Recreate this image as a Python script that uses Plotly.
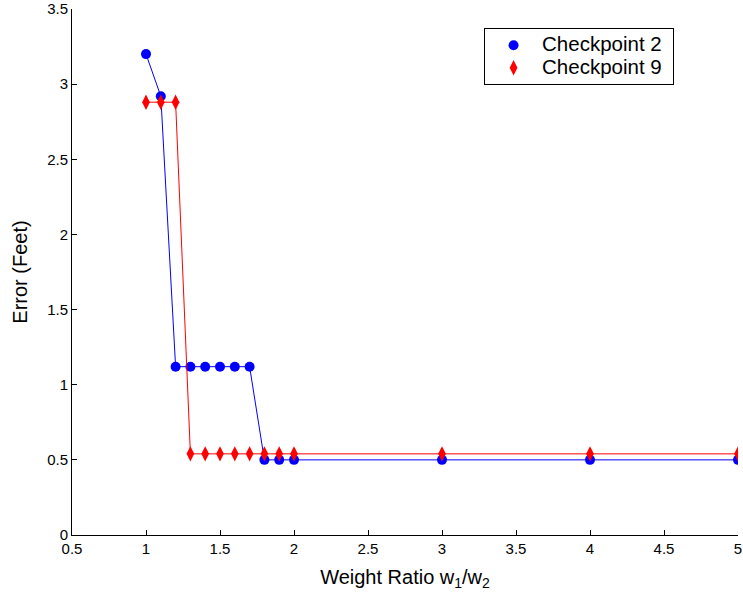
import plotly.graph_objects as go

# Weight ratio w1/w2 values tested
weight_ratio = [1, 1.1, 1.2, 1.3, 1.4, 1.5, 1.6, 1.7, 1.8, 1.9, 2, 3, 4, 5]

# Localisation error (feet) at each checkpoint
err_cp2 = [3.2, 2.92, 1.12, 1.12, 1.12, 1.12, 1.12, 1.12, 0.5, 0.5, 0.5, 0.5, 0.5, 0.5]
err_cp9 = [2.88, 2.88, 2.88, 0.54, 0.54, 0.54, 0.54, 0.54, 0.54, 0.54, 0.54, 0.54, 0.54, 0.54]

x_ticks = [0.5, 1, 1.5, 2, 2.5, 3, 3.5, 4, 4.5, 5]
x_tick_text = ["0.5", "1", "1.5", "2", "2.5", "3", "3.5", "4", "4.5", "5"]
y_ticks = [0, 0.5, 1, 1.5, 2, 2.5, 3, 3.5]
y_tick_text = ["0", "0.5", "1", "1.5", "2", "2.5", "3", "3.5"]

font_family = "Liberation Sans, Arial, Helvetica, sans-serif"

series = [
    ("Checkpoint 2", err_cp2, "#0000ff", "circle", 10),
    ("Checkpoint 9", err_cp9, "#ff0000", "diamond-tall", 11),
]

fig = go.Figure()
for name, values, color, symbol, size in series:
    # line + markers for the data
    fig.add_trace(go.Scatter(
        x=weight_ratio, y=values, mode="lines+markers", name=name,
        line=dict(color=color, width=1),
        marker=dict(symbol=symbol, size=size, color=color),
        showlegend=False, legendgroup=name,
    ))
    # marker-only legend entry (text a bit larger than the row spacing font)
    fig.add_trace(go.Scatter(
        x=[None], y=[None], mode="markers",
        name=f'<span style="font-size:20.5px">{name}&nbsp;</span>',
        marker=dict(symbol=symbol, size=size, color=color),
        showlegend=True, legendgroup=name,
    ))

axis_common = dict(
    showline=True, linecolor="black", linewidth=1, mirror=False,
    showgrid=False, zeroline=False, automargin=False,
    ticks="inside", ticklen=5, tickwidth=1, tickcolor="black",
    tickfont=dict(family=font_family, size=15, color="black"),
)

fig.update_layout(
    width=743, height=596,
    margin=dict(l=72, r=5, t=9, b=61),
    paper_bgcolor="white", plot_bgcolor="white",
    font=dict(family=font_family, color="black"),
    xaxis=dict(
        range=[0.5, 5], tickvals=x_ticks, ticktext=x_tick_text,
        title=dict(text="Weight Ratio w<sub>1</sub>/w<sub>2</sub>",
                   font=dict(family=font_family, size=20), standoff=13),
        **axis_common,
    ),
    yaxis=dict(
        range=[0, 3.5], tickvals=y_ticks, ticktext=y_tick_text,
        title=dict(text="Error (Feet)", font=dict(family=font_family, size=20),
                   standoff=14),
        **axis_common,
    ),
    legend=dict(
        x=0.904, y=0.964, xanchor="right", yanchor="top",
        bordercolor="black", borderwidth=1, bgcolor="white",
        font=dict(family=font_family, size=15),
        itemwidth=47, tracegroupgap=0,
    ),
    showlegend=True,
)

fig.write_html("out.html")
